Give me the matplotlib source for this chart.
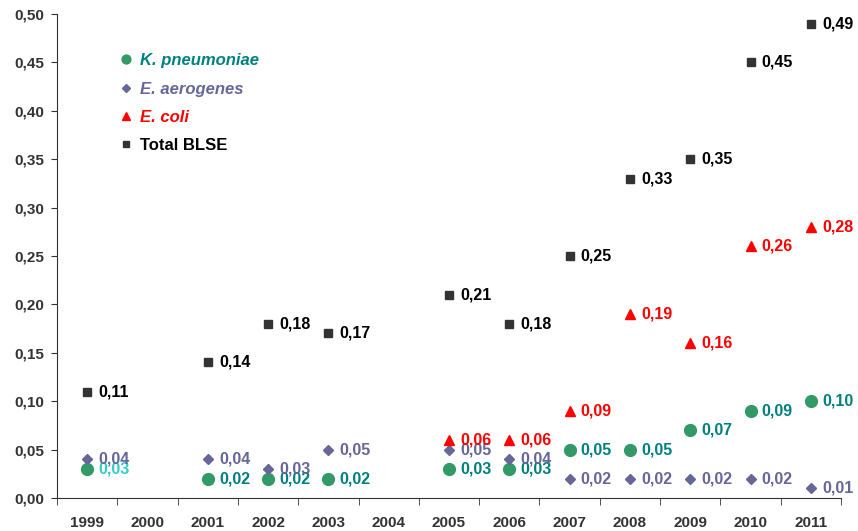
import matplotlib.pyplot as plt
import numpy as np

plt.rcParams["font.family"] = ["Liberation Sans", "DejaVu Sans"]

years = ["1999", "2000", "2001", "2002", "2003", "2004", "2005",
         "2006", "2007", "2008", "2009", "2010", "2011"]

# None = no measurement that year
kpneu = [0.03, None, 0.02, 0.02, 0.02, None, 0.03, 0.03, 0.05, 0.05, 0.07, 0.09, 0.10]
eaero = [0.04, None, 0.04, 0.03, 0.05, None, 0.05, 0.04, 0.02, 0.02, 0.02, 0.02, 0.01]
ecoli = [None, None, None, None, None, None, 0.06, 0.06, 0.09, 0.19, 0.16, 0.26, 0.28]
total = [0.11, None, 0.14, 0.18, 0.17, None, 0.21, 0.18, 0.25, 0.33, 0.35, 0.45, 0.49]

series = [
    ("K. pneumoniae", kpneu, "o", 8.5, "#339966", "#008080", True),
    ("E. aerogenes", eaero, "D", 5.0, "#666699", "#666699", True),
    ("E. coli", ecoli, "^", 7.5, "#FF0000", "#FF0000", True),
    ("Total BLSE", total, "s", 6.0, "#333333", "#000000", False),
]


def fmt(v):
    return "{:.2f}".format(v).replace(".", ",")


fig = plt.figure(figsize=(8.58, 5.31), dpi=100)
ax = fig.add_axes([57 / 858, 1 - 498 / 531, 784 / 858, 484 / 531])

x = np.arange(len(years))
handles = []
for name, vals, marker, ms, mcol, tcol, italic in series:
    xs = [i for i, v in zip(x, vals) if v is not None]
    ys = [v for v in vals if v is not None]
    h, = ax.plot(xs, ys, linestyle="none", marker=marker, markersize=ms,
                 color=mcol, label=name)
    handles.append(h)
    for xi, yi in zip(xs, ys):
        col = tcol
        if name == "K. pneumoniae" and xi == 0:
            col = "#33CCCC"
        ax.annotate(fmt(yi), (xi, yi), xytext=(8, 0), textcoords="offset points",
                    va="center", ha="left", fontsize=11.5, fontweight="bold",
                    color=col)

ax.set_xlim(-0.5, len(years) - 0.5)
ax.set_ylim(0, 0.5)
ax.set_yticks(np.arange(0, 0.51, 0.05))
ax.set_yticklabels([fmt(v) for v in np.arange(0, 0.51, 0.05)])
ax.set_xticks(x)
ax.set_xticklabels(years)
ax.set_xticks(np.arange(-0.5, len(years), 1), minor=True)
ax.tick_params(axis="x", which="major", length=0, pad=13)
ax.tick_params(axis="x", which="minor", length=5, color="#333333")
ax.tick_params(axis="y", length=4, color="#333333", pad=5)
for lab in ax.get_xticklabels() + ax.get_yticklabels():
    lab.set_fontweight("bold")
    lab.set_color("#333333")
    lab.set_fontsize(11)

for s in ["top", "right"]:
    ax.spines[s].set_visible(False)
for s in ["left", "bottom"]:
    ax.spines[s].set_color("#333333")

leg = ax.legend(handles=handles, loc="upper left", bbox_to_anchor=(0.063, 0.95),
                frameon=False, handlelength=0.6, handletextpad=0.5,
                labelspacing=0.8, markerscale=0.75,
                prop={"size": 12, "weight": "bold"})
for txt, (name, vals, marker, ms, mcol, tcol, italic) in zip(leg.get_texts(), series):
    txt.set_color(tcol)
    if italic:
        txt.set_fontstyle("italic")

fig.savefig("out.png", dpi=100)
